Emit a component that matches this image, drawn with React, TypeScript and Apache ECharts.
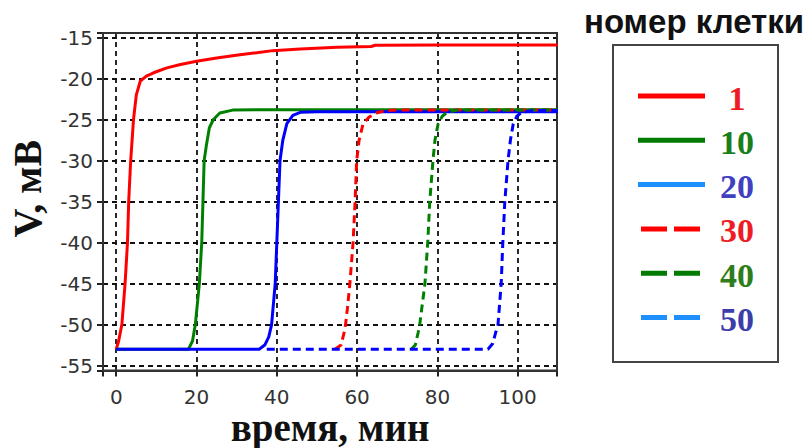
import React, { useEffect, useRef } from "react";
import * as echarts from "echarts";

// ---- data ----
const cellNumbers = ["1", "10", "20", "30", "40", "50"];
const xTicks = [0, 20, 40, 60, 80, 100];
const yTicks = [-55, -50, -45, -40, -35, -30, -25, -20, -15];

const cell1: number[][] = [
  [0, -53], [0.6, -52], [1.4, -50], [2.2, -45], [2.8, -40], [3.1, -35], [3.6, -30],
  [4.3, -25], [5, -22], [6, -20.3], [7.5, -19.7], [9.3, -19.3], [12.6, -18.7],
  [16, -18.3], [20, -17.9], [25, -17.5], [30.8, -17.1], [35, -16.85], [39, -16.6],
  [45.8, -16.4], [55, -16.2], [63.5, -16.1], [64.5, -15.95], [80, -15.9], [110, -15.9],
];
const cell10: number[][] = [
  [0, -53], [18, -53], [19, -52], [19.7, -50], [20.7, -45], [21.3, -40], [21.6, -35],
  [21.9, -30], [22.5, -28], [23.2, -26], [24.2, -25], [25.8, -24.2], [29, -23.85],
  [35, -23.8], [110, -23.8],
];
const cell20: number[][] = [
  [0, -53], [35.6, -53], [37, -52.5], [38, -51.5], [38.7, -50], [39.6, -45], [40, -40],
  [40.4, -35], [40.8, -30], [41.5, -27.5], [42.5, -25.5], [44, -24.5], [46, -24.1],
  [50, -24.05], [110, -24.05],
];
const cell30: number[][] = [
  [54.5, -53], [56, -52.5], [57, -50.5], [57.6, -48], [58.2, -45], [59, -40], [59.5, -35],
  [59.9, -30], [60.5, -27.5], [61.5, -25.5], [63, -24.7], [64.8, -24.2], [67, -23.9],
  [70, -23.85], [110, -23.85],
];
const cell40: number[][] = [
  [73.5, -53], [74.5, -52.5], [75.2, -51], [75.6, -50], [76.9, -45], [77.6, -40],
  [78.1, -35], [78.9, -30], [79.4, -27.5], [80.2, -25.5], [81.2, -24.6], [82.5, -24.1],
  [85, -23.85], [110, -23.85],
];
const cell50: number[][] = [
  [37.5, -53], [92.6, -53], [93.8, -52.3], [94.5, -51], [95.1, -50], [95.9, -45],
  [96.3, -40], [96.8, -35], [97.6, -30], [98.2, -27.5], [98.9, -25.5], [99.8, -24.6],
  [101, -24.1], [104, -23.9], [110, -23.9],
];
const cellSeries = [cell1, cell10, cell20, cell30, cell40, cell50];

// ---- styles ----
const lineColors = ["#ff0000", "#008000", "#0000ff", "#ff0000", "#008000", "#0000ff"];
const legendLineColors = ["#ff0000", "#007a00", "#1e8fff", "#ff0000", "#007a00", "#1e8fff"];
const legendTextColors = ["#ee1c25", "#1a7f1a", "#4040c0", "#ee1c25", "#2e7d1a", "#3c3caa"];
const dashed = [false, false, false, true, true, true];

export default function App() {
  const ref = useRef<HTMLDivElement>(null);
  useEffect(() => {
    if (!ref.current) return;
    const chart = echarts.init(ref.current, null, { renderer: "svg" });

    const xLabel = (v: number) => (xTicks.includes(Math.round(v * 1000) / 1000) ? String(v) : "");
    const yLabel = (v: number) => (yTicks.includes(Math.round(v * 1000) / 1000) ? String(v) : "");
    const gridLine = { show: true, lineStyle: { color: "#111", type: [5, 4], width: 1.8 } };
    const tickLabelStyle = { fontFamily: "DejaVu Sans", fontSize: 20, color: "#333" };
    const nameStyle = { fontFamily: "Liberation Serif", fontWeight: "bold", fontSize: 40, color: "#111" };

    const legendRowY = (i: number) => 96 + i * 44.3;
    const legendEls: any[] = [
      {
        type: "rect",
        shape: { x: 613, y: 45, width: 165, height: 317 },
        style: { fill: "#fff", stroke: "#444", lineWidth: 2 },
        z: 10,
      },
      {
        type: "text",
        x: 694,
        y: 21.5,
        style: {
          text: "номер клетки",
          fontFamily: "Liberation Sans",
          fontWeight: "bold",
          fontSize: 33,
          fill: "#111",
          align: "center",
          verticalAlign: "middle",
        },
        z: 11,
      },
    ];
    cellNumbers.forEach((n, i) => {
      const y = legendRowY(i);
      legendEls.push({
        type: "line",
        shape: dashed[i] ? { x1: 641, y1: y, x2: 701, y2: y } : { x1: 638, y1: y, x2: 705, y2: y },
        style: {
          stroke: legendLineColors[i],
          lineWidth: 5,
          lineDash: dashed[i] ? [26, 7] : null,
        },
        z: 11,
      });
      legendEls.push({
        type: "text",
        x: 737,
        y: y + 2,
        style: {
          text: n,
          fontFamily: "Liberation Serif",
          fontWeight: "bold",
          fontSize: 34,
          fill: legendTextColors[i],
          align: "center",
          verticalAlign: "middle",
        },
        z: 11,
      });
    });

    const option: any = {
      animation: false,
      backgroundColor: "#fff",
      grid: {
        left: 103,
        top: 33,
        width: 454,
        height: 337.5,
        show: true,
        borderColor: "#333",
        borderWidth: 2,
        backgroundColor: "transparent",
        containLabel: false,
        outerBoundsMode: "none",
        z: 3,
      },
      xAxis: {
        type: "value",
        min: -3.3,
        max: 109.8,
        minInterval: 20,
        maxInterval: 20,
        name: "время, мин",
        nameLocation: "middle",
        nameGap: 37,
        nameMoveOverlap: false,
        nameTextStyle: { ...nameStyle, fontSize: 39 },
        axisLine: { show: true, onZero: false, lineStyle: { color: "#333", width: 2 } },
        axisTick: { show: true, length: 6, lineStyle: { color: "#222", width: 2 } },
        axisLabel: { ...tickLabelStyle, lineHeight: 16, margin: 18, formatter: xLabel },
        splitLine: gridLine,
      },
      yAxis: {
        type: "value",
        min: -55.6,
        max: -14.45,
        minInterval: 5,
        maxInterval: 5,
        name: "V, мВ",
        nameLocation: "middle",
        nameGap: 56,
        nameMoveOverlap: false,
        nameTextStyle: { ...nameStyle, padding: [0, 0, 0, 26] },
        axisLine: { show: true, onZero: false, lineStyle: { color: "#333", width: 2 } },
        axisTick: { show: true, length: 6, lineStyle: { color: "#222", width: 2 } },
        axisLabel: { ...tickLabelStyle, margin: 10, formatter: yLabel },
        splitLine: gridLine,
      },
      series: cellSeries.map((data, i) => ({
        name: cellNumbers[i],
        type: "line",
        data,
        symbol: "none",
        showSymbol: false,
        clip: true,
        lineStyle: {
          color: lineColors[i],
          width: 3,
          type: dashed[i] ? [8, 5] : "solid",
        },
        z: 4 + i,
      })),
      graphic: legendEls,
    };
    chart.setOption(option);
    return () => chart.dispose();
  }, []);

  return (
    <div
      ref={ref}
      style={{ position: "fixed", left: 0, top: 0, width: 808, height: 448, background: "#fff" }}
    />
  );
}
